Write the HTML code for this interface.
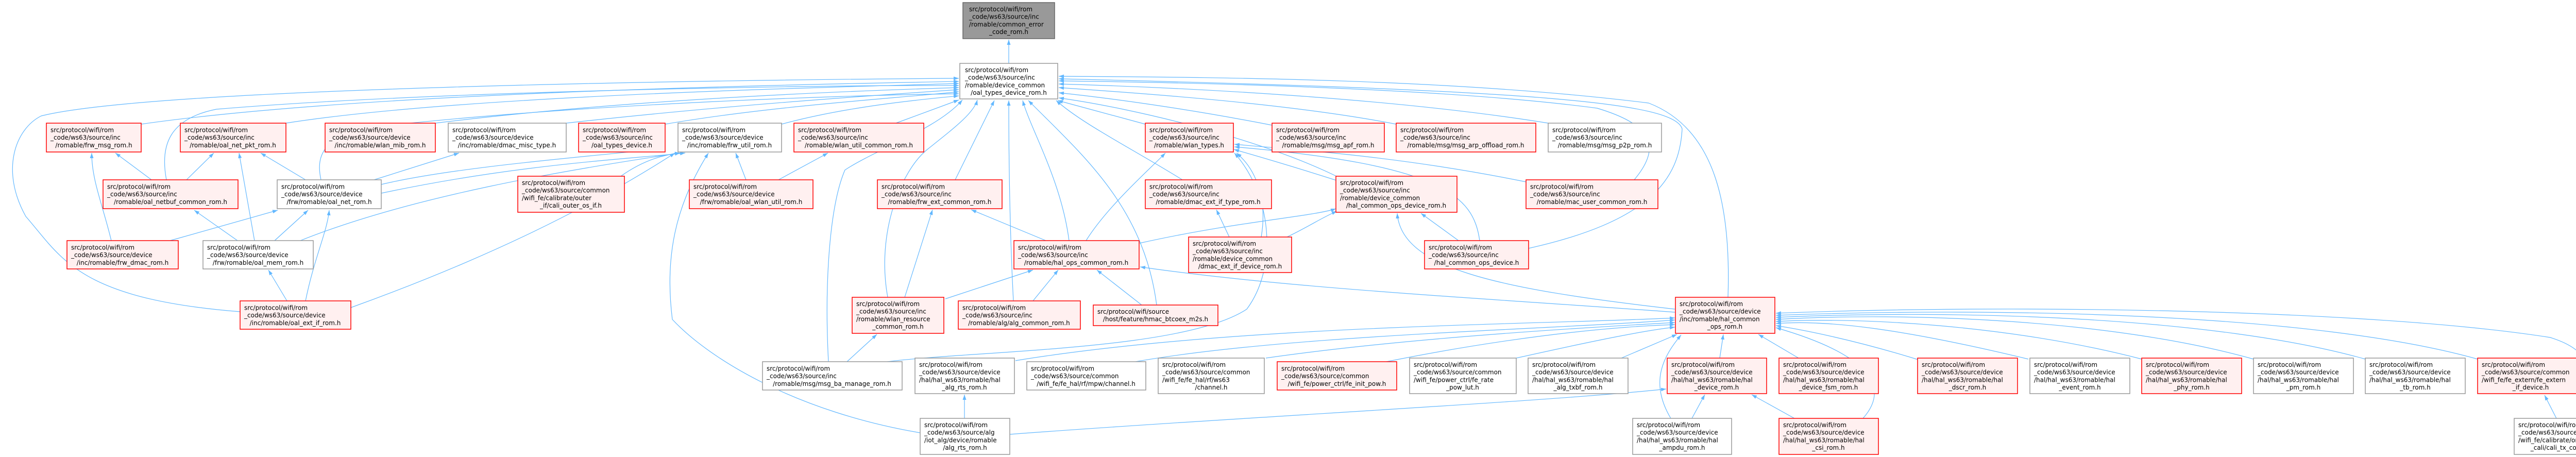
<!DOCTYPE html>
<html><head><meta charset="utf-8"><style>
html,body{margin:0;padding:0;background:#fff;}
svg{display:block;}
text{font-family:"DejaVu Sans","Liberation Sans",sans-serif;font-size:12px;fill:#000;}
.r{fill:#fff0f0;stroke:#ff0000;stroke-width:1.5;}
.g{fill:#fff;stroke:#999;stroke-width:1.5;}
.k{fill:#999;stroke:#666;stroke-width:1.5;}
path.e{fill:none;stroke:#63b8ff;stroke-width:1.2;marker-end:url(#ah);}
</style></head><body>
<svg width="5092" height="887" viewBox="0 0 5092 887" xmlns="http://www.w3.org/2000/svg">
<defs><marker id="ah" markerUnits="userSpaceOnUse" markerWidth="11" markerHeight="8" refX="10" refY="3.5" orient="auto"><path d="M0,0 L10,3.5 L0,7 z" fill="#63b8ff"/></marker></defs>
<g>
<path class="e" d="M1958,123 L1958,77"/>
<path class="e" d="M274,241 C700,180 1500,165 1861,158"/>
<path class="e" d="M466,605 C150,580 120,500 50,420 C0,330 30,250 80,225 C300,170 1400,155 1861,152"/>
<path class="e" d="M555,239 C900,185 1600,170 1861,162"/>
<path class="e" d="M323,349 C310,280 330,230 420,212 C800,180 1500,165 1861,166"/>
<path class="e" d="M845,239 C1200,195 1600,178 1861,170"/>
<path class="e" d="M1099,239 C1400,205 1700,185 1861,174"/>
<path class="e" d="M1291,241 C1500,205 1750,190 1861,178"/>
<path class="e" d="M623,349 C610,290 640,260 740,245 C1100,205 1600,185 1861,182"/>
<path class="e" d="M1517,241 C1650,205 1800,192 1861,186"/>
<path class="e" d="M1739,239 L1861,194"/>
<path class="e" d="M1205,342 C1250,310 1290,300 1320,297"/>
<path class="e" d="M1608,702 C1600,550 1610,400 1640,330 C1700,290 1820,250 1868,194"/>
<path class="e" d="M1723,577 C1700,450 1750,330 1800,290 C1850,250 1890,220 1897,194"/>
<path class="e" d="M1854,349 L1930,195"/>
<path class="e" d="M1967,584 C1960,450 1958,300 1958,195"/>
<path class="e" d="M2075,467 C2060,350 2000,250 1985,195"/>
<path class="e" d="M2245,592 C2220,400 2100,300 1996,195"/>
<path class="e" d="M2295,349 C2200,290 2100,240 2050,195"/>
<path class="e" d="M2223,241 L2053,195"/>
<path class="e" d="M2600,345 C2450,270 2200,210 2055,190"/>
<path class="e" d="M2469,243 C2300,210 2150,190 2055,180"/>
<path class="e" d="M2710,241 C2500,200 2200,180 2055,170"/>
<path class="e" d="M3005,239 C2700,190 2300,170 2055,163"/>
<path class="e" d="M3172,349 C3230,280 3200,240 3100,210 C2800,170 2300,160 2055,157"/>
<path class="e" d="M2967,482 C3200,430 3260,350 3265,250 C3250,200 3000,175 2055,153"/>
<path class="e" d="M3354,577 C3360,400 3330,250 3200,200 C2800,150 2300,150 2055,148"/>
<path class="e" d="M2600,352 C2500,320 2430,300 2395,290"/>
<path class="e" d="M2962,353 C2700,300 2500,290 2396,280"/>
<path class="e" d="M2872,467 C2860,380 2800,320 2396,285"/>
<path class="e" d="M2108,467 C2150,400 2230,330 2262,297"/>
<path class="e" d="M2448,460 C2460,390 2440,330 2400,297"/>
<path class="e" d="M1722,702 C1900,680 2300,680 2420,600 C2480,520 2470,380 2396,297"/>
<path class="e" d="M2386,460 L2361,407"/>
<path class="e" d="M2212,472 C2400,430 2550,420 2593,405"/>
<path class="e" d="M2498,460 C2540,440 2570,420 2595,410"/>
<path class="e" d="M2831,467 L2758,414"/>
<path class="e" d="M3251,600 C2900,560 2720,520 2712,414"/>
<path class="e" d="M3251,606 C2900,580 2500,560 2213,518"/>
<path class="e" d="M2030,467 L1885,407"/>
<path class="e" d="M1756,577 L1810,407"/>
<path class="e" d="M1835,580 L2005,524"/>
<path class="e" d="M2005,584 L2054,524"/>
<path class="e" d="M2216,592 L2129,524"/>
<path class="e" d="M1644,702 L1702,649"/>
<path class="e" d="M1971,700 C2400,630 3000,630 3251,617"/>
<path class="e" d="M2204,702 C2500,650 3000,640 3251,621"/>
<path class="e" d="M2457,695 C2700,660 3000,640 3251,626"/>
<path class="e" d="M2691,702 C2900,660 3100,635 3251,630"/>
<path class="e" d="M2943,695 C3100,660 3200,640 3251,635"/>
<path class="e" d="M3147,695 L3255,649"/>
<path class="e" d="M3338,695 L3345,649"/>
<path class="e" d="M3491,695 L3413,649"/>
<path class="e" d="M3723,698 C3600,660 3500,640 3447,632"/>
<path class="e" d="M3937,697 C3700,640 3550,620 3447,628"/>
<path class="e" d="M4157,697 C3900,630 3600,615 3447,624"/>
<path class="e" d="M4374,697 C4100,620 3700,605 3447,620"/>
<path class="e" d="M4591,697 C4300,615 3800,600 3447,616"/>
<path class="e" d="M4809,697 C4500,610 3900,595 3447,612"/>
<path class="e" d="M5010,812 C5040,720 5030,680 4950,655 C4600,600 3900,590 3447,608"/>
<path class="e" d="M4962,812 L4939,767"/>
<path class="e" d="M3243,812 C3200,740 3230,690 3263,650"/>
<path class="e" d="M3284,812 L3309,766"/>
<path class="e" d="M3483,812 L3400,766"/>
<path class="e" d="M3616,812 C3680,740 3600,680 3447,636"/>
<path class="e" d="M1960,843 C2400,810 3000,780 3234,755"/>
<path class="e" d="M1872,812 L1872,766"/>
<path class="e" d="M1786,840 C1550,800 1380,700 1305,620 C1290,500 1310,400 1375,297"/>
<path class="e" d="M1448,349 L1428,297"/>
<path class="e" d="M1511,349 L1607,297"/>
<path class="e" d="M740,375 C1000,320 1200,310 1330,297"/>
<path class="e" d="M681,597 C950,500 1150,400 1310,297"/>
<path class="e" d="M583,467 C800,380 1100,330 1320,297"/>
<path class="e" d="M216,467 C200,400 178,350 178,297"/>
<path class="e" d="M330,467 L539,408"/>
<path class="e" d="M294,349 L224,297"/>
<path class="e" d="M362,349 L415,297"/>
<path class="e" d="M494,467 L464,297"/>
<path class="e" d="M461,467 L377,408"/>
<path class="e" d="M533,467 L598,408"/>
<path class="e" d="M593,349 L506,297"/>
<path class="e" d="M726,349 L891,297"/>
<path class="e" d="M740,358 C900,320 1200,300 1290,287"/>
<path class="e" d="M593,584 C610,500 635,450 639,408"/>
<path class="e" d="M557,584 L521,524"/>
</g>

<!-- nodes -->
<rect class="k" x="1869" y="5" width="178" height="70"/>
<text><tspan x="1881" y="22">src/protocol/wifi/rom</tspan><tspan x="1881" dy="14.7">_code/ws63/source/inc</tspan><tspan x="1881" dy="14.7">/romable/common_error</tspan><tspan x="1958" dy="14.7" text-anchor="middle">_code_rom.h</tspan></text>

<rect class="g" x="1863" y="123" width="190" height="69"/>
<text><tspan x="1873" y="140">src/protocol/wifi/rom</tspan><tspan x="1873" dy="14.7">_code/ws63/source/inc</tspan><tspan x="1873" dy="14.7">/romable/device_common</tspan><tspan x="1958" dy="14.7" text-anchor="middle">/oal_types_device_rom.h</tspan></text>

<!-- row 2 -->
<rect class="r" x="90" y="239" width="184" height="56"/>
<text><tspan x="98" y="256.5">src/protocol/wifi/rom</tspan><tspan x="98" dy="14.7">_code/ws63/source/inc</tspan><tspan x="182" dy="14.7" text-anchor="middle">/romable/frw_msg_rom.h</tspan></text>
<rect class="r" x="350" y="239" width="205" height="56"/>
<text><tspan x="358" y="256.5">src/protocol/wifi/rom</tspan><tspan x="358" dy="14.7">_code/ws63/source/inc</tspan><tspan x="452" dy="14.7" text-anchor="middle">/romable/oal_net_pkt_rom.h</tspan></text>
<rect class="r" x="631" y="239" width="214" height="56"/>
<text><tspan x="639" y="256.5">src/protocol/wifi/rom</tspan><tspan x="639" dy="14.7">_code/ws63/source/device</tspan><tspan x="738" dy="14.7" text-anchor="middle">/inc/romable/wlan_mib_rom.h</tspan></text>
<rect class="g" x="870" y="239" width="229" height="56"/>
<text><tspan x="878" y="256.5">src/protocol/wifi/rom</tspan><tspan x="878" dy="14.7">_code/ws63/source/device</tspan><tspan x="984" dy="14.7" text-anchor="middle">/inc/romable/dmac_misc_type.h</tspan></text>
<rect class="r" x="1123" y="239" width="168" height="56"/>
<text><tspan x="1131" y="256.5">src/protocol/wifi/rom</tspan><tspan x="1131" dy="14.7">_code/ws63/source/inc</tspan><tspan x="1207" dy="14.7" text-anchor="middle">/oal_types_device.h</tspan></text>
<rect class="g" x="1316" y="239" width="201" height="56"/>
<text><tspan x="1324" y="256.5">src/protocol/wifi/rom</tspan><tspan x="1324" dy="14.7">_code/ws63/source/device</tspan><tspan x="1416" dy="14.7" text-anchor="middle">/inc/romable/frw_util_rom.h</tspan></text>
<rect class="r" x="1541" y="239" width="252" height="56"/>
<text><tspan x="1549" y="256.5">src/protocol/wifi/rom</tspan><tspan x="1549" dy="14.7">_code/ws63/source/inc</tspan><tspan x="1667" dy="14.7" text-anchor="middle">/romable/wlan_util_common_rom.h</tspan></text>
<rect class="r" x="2223" y="239" width="171" height="56"/>
<text><tspan x="2231" y="256.5">src/protocol/wifi/rom</tspan><tspan x="2231" dy="14.7">_code/ws63/source/inc</tspan><tspan x="2308" dy="14.7" text-anchor="middle">/romable/wlan_types.h</tspan></text>
<rect class="r" x="2469" y="239" width="218" height="56"/>
<text><tspan x="2477" y="256.5">src/protocol/wifi/rom</tspan><tspan x="2477" dy="14.7">_code/ws63/source/inc</tspan><tspan x="2578" dy="14.7" text-anchor="middle">/romable/msg/msg_apf_rom.h</tspan></text>
<rect class="r" x="2710" y="239" width="271" height="56"/>
<text><tspan x="2718" y="256.5">src/protocol/wifi/rom</tspan><tspan x="2718" dy="14.7">_code/ws63/source/inc</tspan><tspan x="2845" dy="14.7" text-anchor="middle">/romable/msg/msg_arp_offload_rom.h</tspan></text>
<rect class="g" x="3005" y="239" width="220" height="56"/>
<text><tspan x="3013" y="256.5">src/protocol/wifi/rom</tspan><tspan x="3013" dy="14.7">_code/ws63/source/inc</tspan><tspan x="3115" dy="14.7" text-anchor="middle">/romable/msg/msg_p2p_rom.h</tspan></text>

<!-- row 3 -->
<rect class="r" x="200" y="349" width="262" height="56"/>
<text><tspan x="208" y="366.5">src/protocol/wifi/rom</tspan><tspan x="208" dy="14.7">_code/ws63/source/inc</tspan><tspan x="331" dy="14.7" text-anchor="middle">/romable/oal_netbuf_common_rom.h</tspan></text>
<rect class="g" x="538" y="349" width="202" height="56"/>
<text><tspan x="546" y="366.5">src/protocol/wifi/rom</tspan><tspan x="546" dy="14.7">_code/ws63/source/device</tspan><tspan x="639" dy="14.7" text-anchor="middle">/frw/romable/oal_net_rom.h</tspan></text>
<rect class="r" x="1005" y="342" width="207" height="70"/>
<text><tspan x="1013" y="359">src/protocol/wifi/rom</tspan><tspan x="1013" dy="14.7">_code/ws63/source/common</tspan><tspan x="1013" dy="14.7">/wifi_fe/calibrate/outer</tspan><tspan x="1108" dy="14.7" text-anchor="middle">_if/cali_outer_os_if.h</tspan></text>
<rect class="r" x="1338" y="349" width="240" height="56"/>
<text><tspan x="1346" y="366.5">src/protocol/wifi/rom</tspan><tspan x="1346" dy="14.7">_code/ws63/source/device</tspan><tspan x="1458" dy="14.7" text-anchor="middle">/frw/romable/oal_wlan_util_rom.h</tspan></text>
<rect class="r" x="1703" y="349" width="242" height="56"/>
<text><tspan x="1711" y="366.5">src/protocol/wifi/rom</tspan><tspan x="1711" dy="14.7">_code/ws63/source/inc</tspan><tspan x="1824" dy="14.7" text-anchor="middle">/romable/frw_ext_common_rom.h</tspan></text>
<rect class="r" x="2223" y="349" width="245" height="56"/>
<text><tspan x="2231" y="366.5">src/protocol/wifi/rom</tspan><tspan x="2231" dy="14.7">_code/ws63/source/inc</tspan><tspan x="2345" dy="14.7" text-anchor="middle">/romable/dmac_ext_if_type_rom.h</tspan></text>
<rect class="r" x="2593" y="342" width="235" height="70"/>
<text><tspan x="2601" y="359">src/protocol/wifi/rom</tspan><tspan x="2601" dy="14.7">_code/ws63/source/inc</tspan><tspan x="2601" dy="14.7">/romable/device_common</tspan><tspan x="2710" dy="14.7" text-anchor="middle">/hal_common_ops_device_rom.h</tspan></text>
<rect class="r" x="2962" y="349" width="256" height="56"/>
<text><tspan x="2970" y="366.5">src/protocol/wifi/rom</tspan><tspan x="2970" dy="14.7">_code/ws63/source/inc</tspan><tspan x="3090" dy="14.7" text-anchor="middle">/romable/mac_user_common_rom.h</tspan></text>

<!-- row 4 -->
<rect class="r" x="130" y="467" width="216" height="55"/>
<text><tspan x="138" y="484.5">src/protocol/wifi/rom</tspan><tspan x="138" dy="14.7">_code/ws63/source/device</tspan><tspan x="238" dy="14.7" text-anchor="middle">/inc/romable/frw_dmac_rom.h</tspan></text>
<rect class="g" x="394" y="467" width="214" height="55"/>
<text><tspan x="402" y="484.5">src/protocol/wifi/rom</tspan><tspan x="402" dy="14.7">_code/ws63/source/device</tspan><tspan x="501" dy="14.7" text-anchor="middle">/frw/romable/oal_mem_rom.h</tspan></text>
<rect class="r" x="1968" y="467" width="243" height="55"/>
<text><tspan x="1976" y="484.5">src/protocol/wifi/rom</tspan><tspan x="1976" dy="14.7">_code/ws63/source/inc</tspan><tspan x="2089" dy="14.7" text-anchor="middle">/romable/hal_ops_common_rom.h</tspan></text>
<rect class="r" x="2307" y="460" width="200" height="69"/>
<text><tspan x="2315" y="477">src/protocol/wifi/rom</tspan><tspan x="2315" dy="14.7">_code/ws63/source/inc</tspan><tspan x="2315" dy="14.7">/romable/device_common</tspan><tspan x="2407" dy="14.7" text-anchor="middle">/dmac_ext_if_device_rom.h</tspan></text>
<rect class="r" x="2765" y="467" width="202" height="55"/>
<text><tspan x="2773" y="484.5">src/protocol/wifi/rom</tspan><tspan x="2773" dy="14.7">_code/ws63/source/inc</tspan><tspan x="2866" dy="14.7" text-anchor="middle">/hal_common_ops_device.h</tspan></text>

<!-- row 5 -->
<rect class="r" x="466" y="584" width="215" height="55"/>
<text><tspan x="474" y="601.5">src/protocol/wifi/rom</tspan><tspan x="474" dy="14.7">_code/ws63/source/device</tspan><tspan x="573" dy="14.7" text-anchor="middle">/inc/romable/oal_ext_if_rom.h</tspan></text>
<rect class="r" x="1654" y="577" width="178" height="70"/>
<text><tspan x="1662" y="594">src/protocol/wifi/rom</tspan><tspan x="1662" dy="14.7">_code/ws63/source/inc</tspan><tspan x="1662" dy="14.7">/romable/wlan_resource</tspan><tspan x="1743" dy="14.7" text-anchor="middle">_common_rom.h</tspan></text>
<rect class="r" x="1860" y="584" width="237" height="55"/>
<text><tspan x="1868" y="601.5">src/protocol/wifi/rom</tspan><tspan x="1868" dy="14.7">_code/ws63/source/inc</tspan><tspan x="1978" dy="14.7" text-anchor="middle">/romable/alg/alg_common_rom.h</tspan></text>
<rect class="r" x="2122" y="592" width="242" height="40"/>
<text><tspan x="2130" y="608.8">src/protocol/wifi/source</tspan><tspan x="2243" dy="14.7" text-anchor="middle">/host/feature/hmac_btcoex_m2s.h</tspan></text>
<rect class="r" x="3252" y="577" width="193" height="70"/>
<text><tspan x="3260" y="594">src/protocol/wifi/rom</tspan><tspan x="3260" dy="14.7">_code/ws63/source/device</tspan><tspan x="3260" dy="14.7">/inc/romable/hal_common</tspan><tspan x="3348" dy="14.7" text-anchor="middle">_ops_rom.h</tspan></text>

<!-- row 6 -->
<rect class="g" x="1480" y="702" width="271" height="55"/>
<text><tspan x="1488" y="719.5">src/protocol/wifi/rom</tspan><tspan x="1488" dy="14.7">_code/ws63/source/inc</tspan><tspan x="1615" dy="14.7" text-anchor="middle">/romable/msg/msg_ba_manage_rom.h</tspan></text>
<rect class="g" x="1776" y="695" width="193" height="69"/>
<text><tspan x="1784" y="712">src/protocol/wifi/rom</tspan><tspan x="1784" dy="14.7">_code/ws63/source/device</tspan><tspan x="1784" dy="14.7">/hal/hal_ws63/romable/hal</tspan><tspan x="1872" dy="14.7" text-anchor="middle">_alg_rts_rom.h</tspan></text>
<rect class="g" x="1993" y="702" width="231" height="55"/>
<text><tspan x="2001" y="719.5">src/protocol/wifi/rom</tspan><tspan x="2001" dy="14.7">_code/ws63/source/common</tspan><tspan x="2108" dy="14.7" text-anchor="middle">/wifi_fe/fe_hal/rf/mpw/channel.h</tspan></text>
<rect class="g" x="2248" y="695" width="206" height="69"/>
<text><tspan x="2256" y="712">src/protocol/wifi/rom</tspan><tspan x="2256" dy="14.7">_code/ws63/source/common</tspan><tspan x="2256" dy="14.7">/wifi_fe/fe_hal/rf/ws63</tspan><tspan x="2351" dy="14.7" text-anchor="middle">/channel.h</tspan></text>
<rect class="r" x="2479" y="702" width="232" height="55"/>
<text><tspan x="2487" y="719.5">src/protocol/wifi/rom</tspan><tspan x="2487" dy="14.7">_code/ws63/source/common</tspan><tspan x="2595" dy="14.7" text-anchor="middle">/wifi_fe/power_ctrl/fe_init_pow.h</tspan></text>
<rect class="g" x="2736" y="695" width="207" height="69"/>
<text><tspan x="2744" y="712">src/protocol/wifi/rom</tspan><tspan x="2744" dy="14.7">_code/ws63/source/common</tspan><tspan x="2744" dy="14.7">/wifi_fe/power_ctrl/fe_rate</tspan><tspan x="2839" dy="14.7" text-anchor="middle">_pow_lut.h</tspan></text>
<rect class="g" x="2966" y="695" width="194" height="69"/>
<text><tspan x="2974" y="712">src/protocol/wifi/rom</tspan><tspan x="2974" dy="14.7">_code/ws63/source/device</tspan><tspan x="2974" dy="14.7">/hal/hal_ws63/romable/hal</tspan><tspan x="3063" dy="14.7" text-anchor="middle">_alg_txbf_rom.h</tspan></text>
<rect class="r" x="3236" y="695" width="193" height="69"/>
<text><tspan x="3244" y="712">src/protocol/wifi/rom</tspan><tspan x="3244" dy="14.7">_code/ws63/source/device</tspan><tspan x="3244" dy="14.7">/hal/hal_ws63/romable/hal</tspan><tspan x="3332" dy="14.7" text-anchor="middle">_device_rom.h</tspan></text>
<rect class="r" x="3453" y="695" width="193" height="69"/>
<text><tspan x="3461" y="712">src/protocol/wifi/rom</tspan><tspan x="3461" dy="14.7">_code/ws63/source/device</tspan><tspan x="3461" dy="14.7">/hal/hal_ws63/romable/hal</tspan><tspan x="3549" dy="14.7" text-anchor="middle">_device_fsm_rom.h</tspan></text>
<rect class="r" x="3722" y="695" width="194" height="69"/>
<text><tspan x="3730" y="712">src/protocol/wifi/rom</tspan><tspan x="3730" dy="14.7">_code/ws63/source/device</tspan><tspan x="3730" dy="14.7">/hal/hal_ws63/romable/hal</tspan><tspan x="3819" dy="14.7" text-anchor="middle">_dscr_rom.h</tspan></text>
<rect class="g" x="3940" y="695" width="194" height="69"/>
<text><tspan x="3948" y="712">src/protocol/wifi/rom</tspan><tspan x="3948" dy="14.7">_code/ws63/source/device</tspan><tspan x="3948" dy="14.7">/hal/hal_ws63/romable/hal</tspan><tspan x="4037" dy="14.7" text-anchor="middle">_event_rom.h</tspan></text>
<rect class="r" x="4157" y="695" width="194" height="69"/>
<text><tspan x="4165" y="712">src/protocol/wifi/rom</tspan><tspan x="4165" dy="14.7">_code/ws63/source/device</tspan><tspan x="4165" dy="14.7">/hal/hal_ws63/romable/hal</tspan><tspan x="4254" dy="14.7" text-anchor="middle">_phy_rom.h</tspan></text>
<rect class="g" x="4374" y="695" width="194" height="69"/>
<text><tspan x="4382" y="712">src/protocol/wifi/rom</tspan><tspan x="4382" dy="14.7">_code/ws63/source/device</tspan><tspan x="4382" dy="14.7">/hal/hal_ws63/romable/hal</tspan><tspan x="4471" dy="14.7" text-anchor="middle">_pm_rom.h</tspan></text>
<rect class="g" x="4591" y="695" width="194" height="69"/>
<text><tspan x="4599" y="712">src/protocol/wifi/rom</tspan><tspan x="4599" dy="14.7">_code/ws63/source/device</tspan><tspan x="4599" dy="14.7">/hal/hal_ws63/romable/hal</tspan><tspan x="4688" dy="14.7" text-anchor="middle">_tb_rom.h</tspan></text>
<rect class="r" x="4809" y="695" width="207" height="69"/>
<text><tspan x="4817" y="712">src/protocol/wifi/rom</tspan><tspan x="4817" dy="14.7">_code/ws63/source/common</tspan><tspan x="4817" dy="14.7">/wifi_fe/fe_extern/fe_extern</tspan><tspan x="4912" dy="14.7" text-anchor="middle">_if_device.h</tspan></text>

<!-- row 7 -->
<rect class="g" x="1786" y="812" width="174" height="70"/>
<text><tspan x="1794" y="829">src/protocol/wifi/rom</tspan><tspan x="1794" dy="14.7">_code/ws63/source/alg</tspan><tspan x="1794" dy="14.7">/iot_alg/device/romable</tspan><tspan x="1873" dy="14.7" text-anchor="middle">/alg_rts_rom.h</tspan></text>
<rect class="g" x="3169" y="812" width="192" height="70"/>
<text><tspan x="3177" y="829">src/protocol/wifi/rom</tspan><tspan x="3177" dy="14.7">_code/ws63/source/device</tspan><tspan x="3177" dy="14.7">/hal/hal_ws63/romable/hal</tspan><tspan x="3265" dy="14.7" text-anchor="middle">_ampdu_rom.h</tspan></text>
<rect class="r" x="3453" y="812" width="193" height="70"/>
<text><tspan x="3461" y="829">src/protocol/wifi/rom</tspan><tspan x="3461" dy="14.7">_code/ws63/source/device</tspan><tspan x="3461" dy="14.7">/hal/hal_ws63/romable/hal</tspan><tspan x="3549" dy="14.7" text-anchor="middle">_csi_rom.h</tspan></text>
<rect class="g" x="4880" y="812" width="207" height="70"/>
<text><tspan x="4888" y="829">src/protocol/wifi/rom</tspan><tspan x="4888" dy="14.7">_code/ws63/source/common</tspan><tspan x="4888" dy="14.7">/wifi_fe/calibrate/online</tspan><tspan x="4983" dy="14.7" text-anchor="middle">_cali/cali_tx_complete.h</tspan></text>
</svg>
</body></html>
